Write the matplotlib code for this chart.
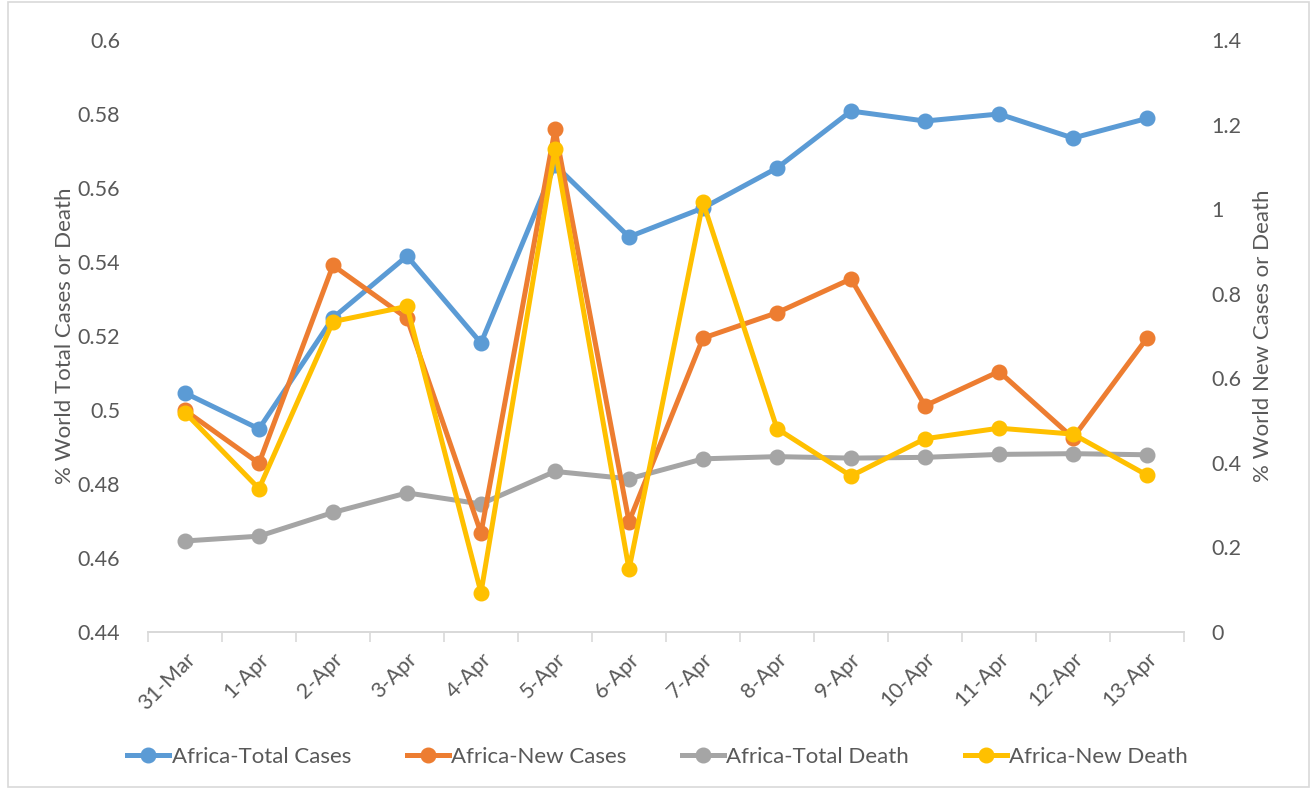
import matplotlib
matplotlib.use("Agg")
import matplotlib.pyplot as plt
from matplotlib.patches import Rectangle
from matplotlib.lines import Line2D
import numpy as np

plt.rcParams['font.family'] = ['Lato', 'DejaVu Sans']

dates = ['31-Mar', '1-Apr', '2-Apr', '3-Apr', '4-Apr', '5-Apr', '6-Apr',
         '7-Apr', '8-Apr', '9-Apr', '10-Apr', '11-Apr', '12-Apr', '13-Apr']

# left axis (% world total)
total_cases = [0.5046, 0.4949, 0.5249, 0.5416, 0.5181, 0.5662, 0.5468,
               0.5546, 0.5654, 0.5808, 0.5781, 0.5800, 0.5735, 0.5788]
total_death = [0.4646, 0.4659, 0.4723, 0.4776, 0.4746, 0.4834, 0.4814,
               0.4868, 0.4874, 0.4870, 0.4872, 0.4880, 0.4882, 0.4879]

# right axis (% world new)
new_cases = [0.524, 0.399, 0.867, 0.742, 0.234, 1.189, 0.261,
             0.695, 0.755, 0.835, 0.535, 0.616, 0.459, 0.695]
new_death = [0.519, 0.339, 0.734, 0.770, 0.093, 1.143, 0.148,
             1.016, 0.481, 0.369, 0.457, 0.482, 0.468, 0.371]

BLUE = '#5B9BD5'
ORANGE = '#ED7D31'
GRAY = '#A5A5A5'
YELLOW = '#FFC000'
TXT = '#595959'

fig = plt.figure(figsize=(13.15, 7.89), dpi=100)
ax = fig.add_axes([148 / 1315, 1 - 632 / 789, (1184 - 148) / 1315, (632 - 40) / 789])
ax2 = ax.twinx()

x = np.arange(len(dates))
lw = 3.6
ms = 10.5

ax.plot(x, total_cases, color=BLUE, lw=lw, marker='o', ms=ms, zorder=3)
ax.plot(x, total_death, color=GRAY, lw=lw, marker='o', ms=ms, zorder=3)
ax2.plot(x, new_cases, color=ORANGE, lw=lw, marker='o', ms=ms, zorder=3)
ax2.plot(x, new_death, color=YELLOW, lw=lw, marker='o', ms=ms, zorder=4)

ax.set_xlim(-0.5, len(dates) - 0.5)
ax.set_ylim(0.44, 0.6)
ax.set_yticks(np.arange(0.44, 0.601, 0.02))
ax.set_yticklabels(['0.44', '0.46', '0.48', '0.5', '0.52', '0.54', '0.56', '0.58', '0.6'])
ax2.set_ylim(0, 1.4)
ax2.set_yticks(np.arange(0, 1.41, 0.2))
ax2.set_yticklabels(['0', '0.2', '0.4', '0.6', '0.8', '1', '1.2', '1.4'])

# category boundaries as major ticks, labels at centres
ax.set_xticks(np.arange(-0.5, len(dates), 1.0))
ax.set_xticklabels([])
ax.set_xticks(x, minor=True)
ax.set_xticklabels(dates, minor=True, rotation=45, ha='right', va='top',
                   rotation_mode='anchor', fontsize=15.5, color=TXT)
ax.tick_params(axis='x', which='major', length=7, width=1.2, color='#D9D9D9')
ax.tick_params(axis='x', which='minor', length=0, pad=12)

for a in (ax, ax2):
    for s in ('top', 'left', 'right'):
        a.spines[s].set_visible(False)
    a.spines['bottom'].set_color('#D9D9D9')
    a.spines['bottom'].set_linewidth(1.3)
ax.tick_params(axis='y', length=0, labelsize=15.5, labelcolor=TXT, pad=20)
ax2.tick_params(axis='y', length=0, labelsize=15.5, labelcolor=TXT, pad=20)

ax.set_ylabel('% World Total Cases or Death', fontsize=16, color=TXT, labelpad=2)
ax2.set_ylabel('% World New Cases or Death', fontsize=16, color=TXT, labelpad=8)

handles = [Line2D([], [], color=c, lw=lw, marker='o', ms=ms) for c in (BLUE, ORANGE, GRAY, YELLOW)]
labels = ['Africa-Total Cases', 'Africa-New Cases', 'Africa-Total Death', 'Africa-New Death']
fig.legend(handles, labels, loc='center', bbox_to_anchor=(0.5, 1 - 757 / 789), ncol=4,
           frameon=False, fontsize=16, labelcolor=TXT, handlelength=1.9,
           handletextpad=0.1, columnspacing=2.5)

fig.patches.append(Rectangle((8 / 1315, 0.002), 1301 / 1315, 0.996, transform=fig.transFigure,
                             fill=False, edgecolor='#D9D9D9', lw=1.2))

fig.savefig('out.png', dpi=100)
